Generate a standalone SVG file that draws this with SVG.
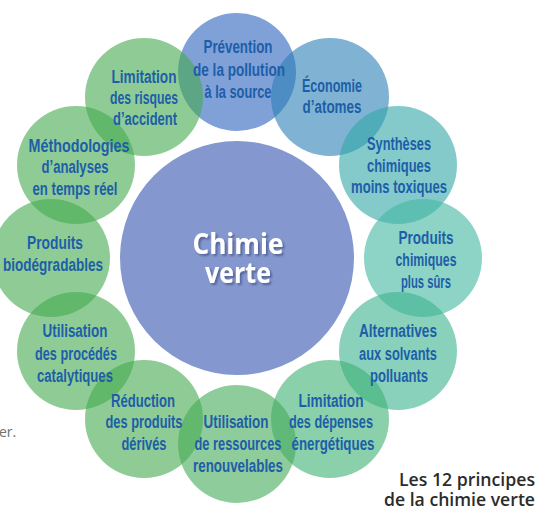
<svg xmlns="http://www.w3.org/2000/svg" width="542" height="514" viewBox="0 0 542 514">
<style>
.ring circle{fill-opacity:0.6}
.lbl{font-family:"Liberation Sans",Arial,sans-serif;font-weight:bold;font-size:17.5px;fill:#1d5ea8;text-anchor:middle}
.big{font-family:"Open Sans","Liberation Sans",sans-serif;font-weight:bold;font-size:29px;text-anchor:middle;fill:#ffffff;filter:url(#shadow)}
.cap{font-family:"Open Sans","Liberation Sans",sans-serif;font-weight:600;font-size:17.5px;fill:#2b2b2b;text-anchor:end}
</style>
<defs>
<filter id="shadow" x="-20%" y="-30%" width="140%" height="170%">
<feDropShadow dx="2" dy="2" stdDeviation="0.8" flood-color="#4d5c92" flood-opacity="0.85"/>
</filter>
</defs>
<rect width="542" height="514" fill="#ffffff"/>
<g id="connectors"/>
<g id="center">
<circle cx="237" cy="258" r="117" fill="#8498cf"/>
<text class="big" x="238" y="254" textLength="91" lengthAdjust="spacingAndGlyphs">Chimie</text>
<text class="big" x="238" y="283" textLength="66" lengthAdjust="spacingAndGlyphs">verte</text>
</g>
<g class="ring">
<g id="n1"><circle cx="237" cy="72" r="59" fill="#2a62be"/></g>
<g id="n2"><circle cx="330" cy="97" r="59" fill="#2b80b6"/></g>
<g id="n3"><circle cx="398" cy="165" r="59" fill="#32a7a8"/></g>
<g id="n4"><circle cx="423" cy="258" r="59" fill="#43b7a0"/></g>
<g id="n5"><circle cx="398" cy="351" r="59" fill="#3cb290"/></g>
<g id="n6"><circle cx="330" cy="419" r="59" fill="#3cb173"/></g>
<g id="n7"><circle cx="237" cy="444" r="59" fill="#44aa58"/></g>
<g id="n8"><circle cx="144" cy="419" r="59" fill="#44aa4e"/></g>
<g id="n9"><circle cx="76" cy="351" r="59" fill="#44aa4e"/></g>
<g id="n10"><circle cx="51" cy="258" r="59" fill="#44aa4e"/></g>
<g id="n11"><circle cx="76" cy="165" r="59" fill="#44aa4e"/></g>
<g id="n12"><circle cx="144" cy="97" r="59" fill="#44aa4e"/></g>
</g>
<g id="labels">
<text class="lbl" x="238" y="53" textLength="69" lengthAdjust="spacingAndGlyphs">Prévention</text>
<text class="lbl" x="239" y="76" textLength="92" lengthAdjust="spacingAndGlyphs">de la pollution</text>
<text class="lbl" x="238" y="98" textLength="67" lengthAdjust="spacingAndGlyphs">à la source</text>
<text class="lbl" x="332" y="92" textLength="60" lengthAdjust="spacingAndGlyphs">Économie</text>
<text class="lbl" x="332" y="113" textLength="59" lengthAdjust="spacingAndGlyphs">d’atomes</text>
<text class="lbl" x="399" y="150" textLength="64" lengthAdjust="spacingAndGlyphs">Synthèses</text>
<text class="lbl" x="399" y="172" textLength="64" lengthAdjust="spacingAndGlyphs">chimiques</text>
<text class="lbl" x="399" y="193" textLength="96" lengthAdjust="spacingAndGlyphs">moins toxiques</text>
<text class="lbl" x="426" y="244" textLength="55" lengthAdjust="spacingAndGlyphs">Produits</text>
<text class="lbl" x="426" y="266" textLength="61" lengthAdjust="spacingAndGlyphs">chimiques</text>
<text class="lbl" x="426" y="288" textLength="50" lengthAdjust="spacingAndGlyphs">plus sûrs</text>
<text class="lbl" x="398" y="337" textLength="78" lengthAdjust="spacingAndGlyphs">Alternatives</text>
<text class="lbl" x="398" y="360" textLength="78" lengthAdjust="spacingAndGlyphs">aux solvants</text>
<text class="lbl" x="399" y="382" textLength="58" lengthAdjust="spacingAndGlyphs">polluants</text>
<text class="lbl" x="331" y="407" textLength="65" lengthAdjust="spacingAndGlyphs">Limitation</text>
<text class="lbl" x="331" y="428" textLength="84" lengthAdjust="spacingAndGlyphs">des dépenses</text>
<text class="lbl" x="333" y="450" textLength="83" lengthAdjust="spacingAndGlyphs">énergétiques</text>
<text class="lbl" x="236" y="428" textLength="65" lengthAdjust="spacingAndGlyphs">Utilisation</text>
<text class="lbl" x="238" y="450" textLength="87" lengthAdjust="spacingAndGlyphs">de ressources</text>
<text class="lbl" x="238" y="472" textLength="90" lengthAdjust="spacingAndGlyphs">renouvelables</text>
<text class="lbl" x="143" y="407" textLength="64" lengthAdjust="spacingAndGlyphs">Réduction</text>
<text class="lbl" x="144" y="428" textLength="77" lengthAdjust="spacingAndGlyphs">des produits</text>
<text class="lbl" x="144" y="450" textLength="45" lengthAdjust="spacingAndGlyphs">dérivés</text>
<text class="lbl" x="75" y="337" textLength="65" lengthAdjust="spacingAndGlyphs">Utilisation</text>
<text class="lbl" x="76" y="360" textLength="82" lengthAdjust="spacingAndGlyphs">des procédés</text>
<text class="lbl" x="75" y="382" textLength="76" lengthAdjust="spacingAndGlyphs">catalytiques</text>
<text class="lbl" x="55" y="249" textLength="56" lengthAdjust="spacingAndGlyphs">Produits</text>
<text class="lbl" x="53" y="271" textLength="100" lengthAdjust="spacingAndGlyphs">biodégradables</text>
<text class="lbl" x="79" y="152" textLength="101" lengthAdjust="spacingAndGlyphs">Méthodologies</text>
<text class="lbl" x="75" y="173" textLength="67" lengthAdjust="spacingAndGlyphs">d’analyses</text>
<text class="lbl" x="75" y="195" textLength="85" lengthAdjust="spacingAndGlyphs">en temps réel</text>
<text class="lbl" x="144" y="83" textLength="65" lengthAdjust="spacingAndGlyphs">Limitation</text>
<text class="lbl" x="144" y="104" textLength="68" lengthAdjust="spacingAndGlyphs">des risques</text>
<text class="lbl" x="145" y="125" textLength="64" lengthAdjust="spacingAndGlyphs">d’accident</text>
</g>
<text x="-1" y="437" font-family="Open Sans, Liberation Sans, sans-serif" font-size="14" fill="#707070">er.</text>
<text class="cap" x="535" y="486" textLength="136" lengthAdjust="spacingAndGlyphs">Les 12 principes</text>
<text class="cap" x="535" y="506" textLength="151" lengthAdjust="spacingAndGlyphs">de la chimie verte</text>
</svg>
